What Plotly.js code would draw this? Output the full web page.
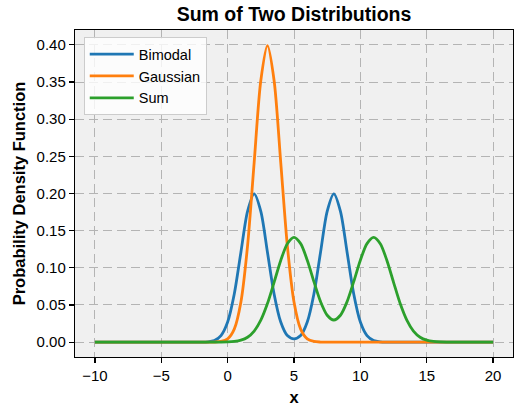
<!DOCTYPE html>
<html><head><meta charset="utf-8">
<script src="https://cdn.plot.ly/plotly-3.0.1.min.js"></script>
<style>body{margin:0}#c{width:515px;height:407px}</style>
</head><body><div id="c"></div>
<script>
const xVals = [-10,-2,-1.5,-1,-0.5,0,0.5,1,1.5,2,2.5,3,3.5,4,4.5,5,5.5,6,6.5,7,7.5,8,8.5,9,9.5,10,10.5,11,11.5,12,12.5,13,13.5,14,14.5,15,15.5,16,16.5,17,20];
const bimodal = [0,0.00007,0.00044,0.0022,0.0088,0.0270,0.0648,0.1210,0.1760,0.1995,0.1760,0.1210,0.0648,0.0270,0.0088,0.0044,0.0088,0.0270,0.0648,0.1210,0.1760,0.1995,0.1760,0.1210,0.0648,0.0270,0.0088,0.0022,0.00044,0.00007,0,0,0,0,0,0,0,0,0,0,0];
const gaussian = [0,0,0,0.0001,0.0009,0.0044,0.0175,0.0540,0.1295,0.2420,0.3521,0.3989,0.3521,0.2420,0.1295,0.0540,0.0175,0.0044,0.0009,0.0001,0,0,0,0,0,0,0,0,0,0,0,0,0,0,0,0,0,0,0,0,0];
const sumVals = [0,0,0,0.00002,0.00007,0.00027,0.0009,0.0026,0.0066,0.0149,0.0296,0.0519,0.0805,0.1099,0.1325,0.1410,0.1326,0.1102,0.0814,0.0545,0.0362,0.0298,0.0362,0.0545,0.0814,0.1102,0.1326,0.1410,0.1325,0.1099,0.0805,0.0519,0.0296,0.0149,0.0066,0.0026,0.0009,0.00027,0.00007,0.00002,0];
const names = ['Bimodal','Gaussian','Sum'];
const colors = ['#1f77b4','#ff7f0e','#2ca02c'];
const series = [bimodal, gaussian, sumVals];

const traces = series.map((s,i)=>({x:xVals,y:s,name:names[i],type:'scatter',mode:'lines',
  line:{color:colors[i],width:2.8,shape:'spline',smoothing:0.8}}));

const font = 'Liberation Sans, Arial, sans-serif';
const ax = {showline:true,mirror:true,linecolor:'#000',linewidth:1.2,ticks:'outside',ticklen:5,tickwidth:1.2,tickcolor:'#000',
  showgrid:true,gridcolor:'#b4b4b4',griddash:'9px,5px',gridwidth:1,zeroline:false,tickfont:{family:font,size:15,color:'#000'}};
const layout = {
  width:515,height:407,margin:{l:75,r:2,t:30,b:50},
  paper_bgcolor:'#fff',plot_bgcolor:'#f0f0f0',
  title:{text:'<b>Sum of Two Distributions</b>',font:{family:font,size:19.5,color:'#000'},xref:'paper',x:0.5,xanchor:'center',y:0.982,yanchor:'top'},
  xaxis:Object.assign({},ax,{range:[-11.5,21.5],tickvals:[-10,-5,0,5,10,15,20],title:{text:'<b>x</b>',font:{family:font,size:16.5,color:'#000'},standoff:8}}),
  yaxis:Object.assign({},ax,{range:[-0.02,0.42],tickvals:[0,0.05,0.1,0.15,0.2,0.25,0.3,0.35,0.4],tickformat:'.2f',
    title:{text:'<b>Probability Density Function</b>',font:{family:font,size:16.5,color:'#000'},standoff:6}}),
  legend:{x:0.02,y:0.978,xanchor:'left',yanchor:'top',bgcolor:'rgba(255,255,255,0.8)',bordercolor:'#cccccc',borderwidth:1,
    font:{family:font,size:14.5,color:'#000'},tracegroupgap:0,itemwidth:44},
  showlegend:true
};
Plotly.newPlot('c',traces,layout,{displayModeBar:false,staticPlot:true});
</script></body></html>
